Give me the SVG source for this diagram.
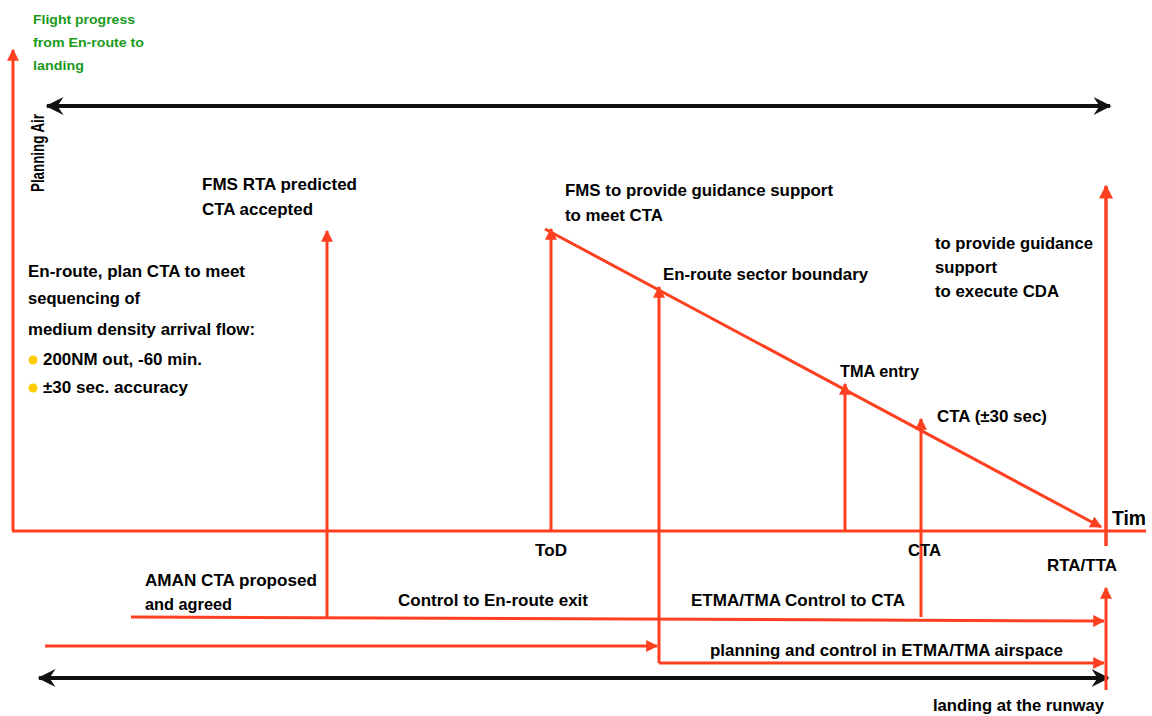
<svg xmlns="http://www.w3.org/2000/svg" width="1152" height="716" viewBox="0 0 1152 716">
<style>
  text { font-family: "Liberation Sans", Arial, sans-serif; font-weight: bold; fill: #000; }
  .t { font-size: 16.5px; }
  .g { font-size: 13.5px; fill: #1a9a1a; }
  .red { stroke: #ff4020; stroke-width: 3; fill: none; }
  .blk { stroke: #111; stroke-width: 4; fill: none; }
</style>
<defs>
  <marker id="ra" viewBox="0 0 10 10" refX="9" refY="5" markerWidth="4" markerHeight="4" orient="auto" markerUnits="strokeWidth">
    <path d="M0,0 L10,5 L0,10 Z" fill="#ff4020"/>
  </marker>
  <marker id="ba" viewBox="0 0 12 12" refX="11" refY="6" markerWidth="4.5" markerHeight="4.5" orient="auto-start-reverse" markerUnits="strokeWidth">
    <path d="M0,0 L12,6 L0,12 L4,6 Z" fill="#111"/>
  </marker>
</defs>

<g id="axes">
  <line class="red" x1="13" y1="531" x2="13" y2="50" marker-end="url(#ra)"/>
  <line class="red" x1="12" y1="531" x2="1146" y2="531"/>
</g>

<g id="labels-top">
  <text class="g" x="33" y="24" textLength="102" lengthAdjust="spacingAndGlyphs">Flight progress</text>
  <text class="g" x="33" y="47" textLength="111" lengthAdjust="spacingAndGlyphs">from En-route to</text>
  <text class="g" x="33" y="70" textLength="51" lengthAdjust="spacingAndGlyphs">landing</text>
  <text transform="translate(44,192) rotate(-90)" style="font-size:18px" textLength="78" lengthAdjust="spacingAndGlyphs">Planning Air</text>
</g>

<g id="connectors">
  <line class="blk" x1="47" y1="106" x2="1110" y2="106" marker-start="url(#ba)" marker-end="url(#ba)"/>
  <line class="blk" x1="39" y1="678" x2="1108" y2="678" marker-start="url(#ba)" marker-end="url(#ba)"/>
  <line class="red" x1="545" y1="229" x2="1101" y2="527" marker-end="url(#ra)"/>
  <line class="red" x1="327" y1="617" x2="327" y2="231" marker-end="url(#ra)"/>
  <line class="red" x1="551" y1="531" x2="551" y2="229" marker-end="url(#ra)"/>
  <line class="red" x1="659" y1="663" x2="659" y2="287" marker-end="url(#ra)"/>
  <line class="red" x1="845" y1="531" x2="845" y2="384" marker-end="url(#ra)"/>
  <line class="red" x1="921" y1="617" x2="921" y2="419" marker-end="url(#ra)"/>
  <line class="red" x1="1106" y1="546" x2="1106" y2="186" marker-end="url(#ra)" style="stroke-width:3.5"/>
  <line class="red" x1="1106" y1="690" x2="1106" y2="588" marker-end="url(#ra)"/>
  <line class="red" x1="131" y1="617" x2="1104" y2="621" marker-end="url(#ra)"/>
  <line class="red" x1="45" y1="646" x2="657" y2="646" marker-end="url(#ra)"/>
  <line class="red" x1="659" y1="663" x2="1104" y2="663" marker-end="url(#ra)"/>
</g>

<g id="en-route-plan">
  <text class="t" x="28" y="277" textLength="217" lengthAdjust="spacingAndGlyphs">En-route, plan CTA to meet</text>
  <text class="t" x="28" y="304" textLength="112" lengthAdjust="spacingAndGlyphs">sequencing of</text>
  <text class="t" x="28" y="335" textLength="227" lengthAdjust="spacingAndGlyphs">medium density arrival flow:</text>
  <circle cx="33" cy="360" r="4.5" fill="#ffcc00"/>
  <text class="t" x="43" y="365" textLength="159" lengthAdjust="spacingAndGlyphs">200NM out, -60 min.</text>
  <circle cx="33" cy="388" r="4.5" fill="#ffcc00"/>
  <text class="t" x="43" y="393" textLength="145" lengthAdjust="spacingAndGlyphs">±30 sec. accuracy</text>
</g>

<g id="fms-rta">
  <text class="t" x="202" y="190" textLength="155" lengthAdjust="spacingAndGlyphs">FMS RTA predicted</text>
  <text class="t" x="202" y="215" textLength="111" lengthAdjust="spacingAndGlyphs">CTA accepted</text>
</g>

<g id="fms-guidance">
  <text class="t" x="565" y="196" textLength="268" lengthAdjust="spacingAndGlyphs">FMS to provide guidance support</text>
  <text class="t" x="565" y="221" textLength="98" lengthAdjust="spacingAndGlyphs">to meet CTA</text>
</g>

<g id="sector-boundary">
  <text class="t" x="663" y="280" textLength="205" lengthAdjust="spacingAndGlyphs">En-route sector boundary</text>
</g>

<g id="cda">
  <text class="t" x="935" y="249" textLength="158" lengthAdjust="spacingAndGlyphs">to provide guidance</text>
  <text class="t" x="935" y="273" textLength="62" lengthAdjust="spacingAndGlyphs">support</text>
  <text class="t" x="935" y="297" textLength="124" lengthAdjust="spacingAndGlyphs">to execute CDA</text>
</g>

<g id="tma-entry">
  <text class="t" x="840" y="377" textLength="79" lengthAdjust="spacingAndGlyphs">TMA entry</text>
</g>

<g id="cta-30">
  <text class="t" x="937" y="422" textLength="110" lengthAdjust="spacingAndGlyphs">CTA (±30 sec)</text>
</g>

<g id="time-labels">
  <text x="1112" y="525" style="font-size:21px" textLength="34" lengthAdjust="spacingAndGlyphs">Tim</text>
  <text class="t" x="535" y="556" textLength="32" lengthAdjust="spacingAndGlyphs">ToD</text>
  <text class="t" x="908" y="556" textLength="33" lengthAdjust="spacingAndGlyphs">CTA</text>
  <text class="t" x="1047" y="571" textLength="70" lengthAdjust="spacingAndGlyphs">RTA/TTA</text>
</g>

<g id="bottom-labels">
  <text class="t" x="145" y="586" textLength="172" lengthAdjust="spacingAndGlyphs">AMAN CTA proposed</text>
  <text class="t" x="145" y="610" textLength="87" lengthAdjust="spacingAndGlyphs">and agreed</text>
  <text class="t" x="398" y="606" textLength="190" lengthAdjust="spacingAndGlyphs">Control to En-route exit</text>
  <text class="t" x="691" y="606" textLength="214" lengthAdjust="spacingAndGlyphs">ETMA/TMA Control to CTA</text>
  <text class="t" x="710" y="656" textLength="353" lengthAdjust="spacingAndGlyphs">planning and control in ETMA/TMA airspace</text>
  <text class="t" x="933" y="711" textLength="171" lengthAdjust="spacingAndGlyphs">landing at the runway</text>
</g>
</svg>
